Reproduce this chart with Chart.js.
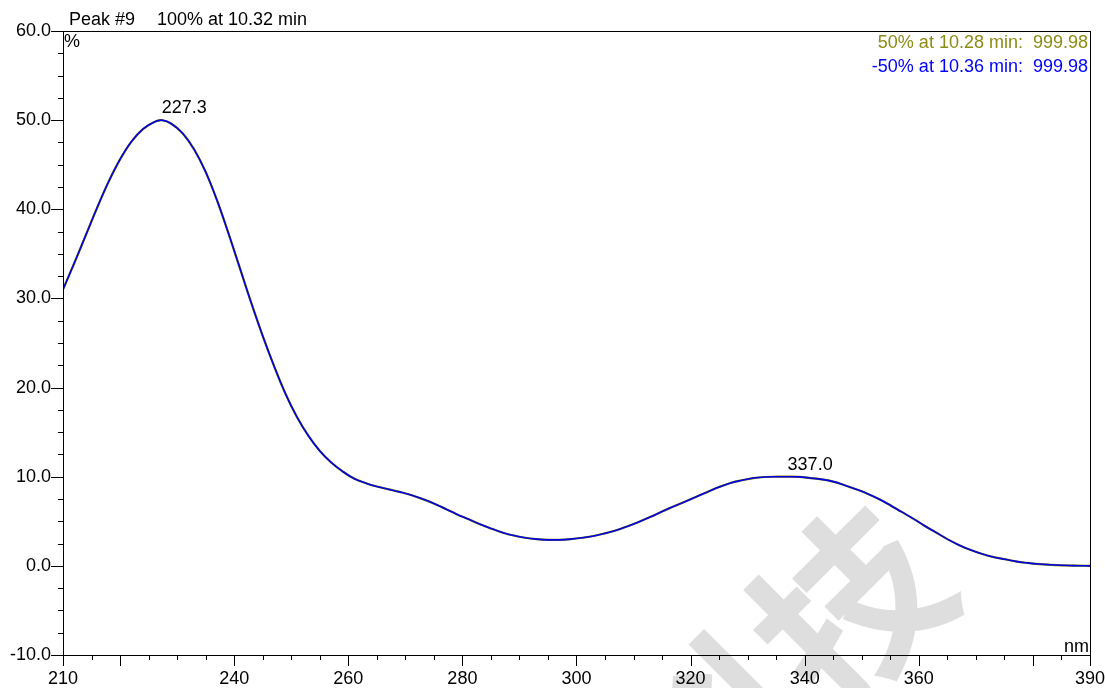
<!DOCTYPE html>
<html>
<head>
<meta charset="utf-8">
<title>Peak #9 UV spectrum</title>
<script src="https://cdn.jsdelivr.net/npm/chart.js@4/dist/chart.umd.min.js"></script>
<style>
  html, body { margin: 0; padding: 0; background: #ffffff; }
  #wrap { position: relative; width: 1105px; height: 688px; }
  canvas { display: block; }
</style>
</head>
<body>
<div id="wrap"><canvas id="spectrum" width="1105" height="688"></canvas></div>
<script>
// Wavelength (nm) and relative absorbance (%) of peak #9
const wavelengths = [
  210, 212, 214, 216, 218, 220, 222, 224, 226, 227.3, 229, 231, 233, 235, 237, 239,
  241, 243, 245, 247, 249, 251, 253, 255, 257, 259, 261, 263, 265, 267, 269, 271,
  273, 275, 277, 279, 281, 283, 285, 287, 289, 291, 293, 295, 297, 299, 301, 303,
  305, 307, 309, 311, 313, 315, 317, 319, 321, 323, 325, 327, 329, 331, 333, 335,
  337, 339, 341, 343, 345, 347, 349, 351, 353, 355, 357, 359, 361, 363, 365, 367,
  369, 371, 373, 375, 377, 379, 381, 383, 385, 387, 389, 390
];
const percent = [
  31.0, 34.0, 37.1, 40.2, 43.1, 45.6, 47.6, 49.0, 49.8, 50.0, 49.6, 48.5, 46.7, 44.2, 41.0, 37.3,
  33.4, 29.5, 25.8, 22.4, 19.3, 16.7, 14.6, 12.9, 11.6, 10.6, 9.8, 9.3, 8.9, 8.6, 8.3, 7.95,
  7.5, 7.0, 6.4, 5.8, 5.25, 4.7, 4.2, 3.75, 3.4, 3.15, 3.0, 2.92, 2.92, 3.0, 3.15, 3.35,
  3.65, 4.0, 4.45, 4.95, 5.5, 6.1, 6.65, 7.2, 7.75, 8.3, 8.85, 9.3, 9.6, 9.85, 9.97, 10.0,
  10.0, 9.98, 9.85, 9.7, 9.45, 9.05, 8.6, 8.1, 7.5, 6.8, 6.05, 5.3, 4.5, 3.75, 3.0, 2.35,
  1.8, 1.35, 1.0, 0.75, 0.5, 0.33, 0.2, 0.12, 0.06, 0.03, 0.01, 0.0
];

// Labelled maxima
const peakNm = [227.3, 337.0];
const peakPct = [50.0, 10.0];

// Axis labels
const xTickLabels = [210, 240, 260, 280, 300, 320, 340, 360, 390];
const xMajorTicks = [210, 220, 240, 260, 280, 300, 320, 340, 360, 380, 390];
const yTickLabels = [-10, 0, 10, 20, 30, 40, 50, 60];

const titleLeft = 'Peak #9';
const titleRight = '100% at 10.32 min';
const upperTrace = '50% at 10.28 min:  999.98';
const lowerTrace = '-50% at 10.36 min:  999.98';

const FONT = '"Liberation Sans", Arial, sans-serif';
const SIZE = 18;

const points = wavelengths.map((w, i) => ({ x: w, y: percent[i] }));

// Background watermark
const watermark = {
  id: 'watermark',
  beforeDraw(chart) {
    const ctx = chart.ctx;
    ctx.save();
    ctx.fillStyle = '#dedede';
    ctx.translate(850, 606);
    ctx.rotate(-Math.PI / 4);
    ctx.font = 'bold 185px "Noto Sans CJK SC"';
    ctx.textAlign = 'right';
    ctx.textBaseline = 'middle';
    ctx.fillText('科技', 92, 0);
    ctx.restore();
  }
};

// Frame, tick marks and annotation text
const frame = {
  id: 'frame',
  afterDraw(chart) {
    const ctx = chart.ctx;
    const a = chart.chartArea;
    const xs = chart.scales.x;
    const ys = chart.scales.y;
    ctx.save();
    ctx.strokeStyle = '#000000';
    ctx.lineWidth = 1;
    ctx.strokeRect(Math.round(a.left) + 0.5, Math.round(a.top) + 0.5,
                   Math.round(a.right - a.left), Math.round(a.bottom - a.top));

    ctx.beginPath();
    for (let v = 210; v <= 390; v += 5) {
      const px = Math.round(xs.getPixelForValue(v)) + 0.5;
      const len = xMajorTicks.includes(v) ? 11 : 5;
      ctx.moveTo(px, Math.round(a.bottom));
      ctx.lineTo(px, Math.round(a.bottom) + len);
    }
    for (let v = -10; v <= 60; v += 2.5) {
      const py = Math.round(ys.getPixelForValue(v)) + 0.5;
      const len = yTickLabels.includes(v) ? 12 : 5;
      ctx.moveTo(Math.round(a.left), py);
      ctx.lineTo(Math.round(a.left) - len, py);
    }
    ctx.stroke();

    ctx.font = SIZE + 'px ' + FONT;
    ctx.textBaseline = 'alphabetic';
    ctx.fillStyle = '#000000';
    ctx.textAlign = 'left';
    ctx.fillText(titleLeft, 69, 25);
    ctx.fillText(titleRight, 157, 25);
    ctx.fillText('%', a.left + 1, 47);
    ctx.textAlign = 'right';
    ctx.fillText('nm', a.right - 1, 652);

    ctx.fillStyle = '#8c8c14';
    ctx.fillText(upperTrace, a.right - 2, 48);
    ctx.fillStyle = '#0000ff';
    ctx.fillText(lowerTrace, a.right - 2, 72);

    ctx.fillStyle = '#000000';
    ctx.textAlign = 'left';
    peakNm.forEach((nm, i) => {
      const px = xs.getPixelForValue(nm);
      const py = ys.getPixelForValue(peakPct[i]);
      ctx.fillText(nm.toFixed(1), px, py - 7);
    });
    ctx.restore();
  }
};

new Chart(document.getElementById('spectrum'), {
  type: 'line',
  data: {
    datasets: [
      {
        label: '-50%',
        data: points,
        borderColor: '#0000e6',
        borderWidth: 1.6,
        pointRadius: 0,
        fill: false,
        tension: 0.4
      },
      {
        label: '50%',
        data: points,
        borderColor: '#808000',
        borderWidth: 2.2,
        pointRadius: 0,
        fill: false,
        tension: 0.4
      }
    ]
  },
  options: {
    responsive: false,
    animation: false,
    devicePixelRatio: 1,
    layout: { padding: { top: 31, right: 0, left: 0, bottom: 0 } },
    plugins: { legend: { display: false }, tooltip: { enabled: false } },
    scales: {
      x: {
        type: 'linear',
        min: 210,
        max: 390,
        grid: { display: false, drawTicks: true, tickLength: 13 },
        border: { display: false },
        ticks: {
          stepSize: 5,
          autoSkip: false,
          maxRotation: 0,
          padding: 0,
          color: '#000000',
          font: { family: FONT, size: SIZE },
          callback: (v) => xTickLabels.includes(v) ? String(v) : ''
        },
        afterFit: (s) => { s.height = 33; }
      },
      y: {
        type: 'linear',
        min: -10,
        max: 60,
        grid: { display: false, drawTicks: false },
        border: { display: false },
        ticks: {
          stepSize: 2.5,
          autoSkip: false,
          padding: 12,
          color: '#000000',
          font: { family: FONT, size: SIZE },
          callback: (v) => yTickLabels.includes(v) ? v.toFixed(1) : ''
        },
        afterFit: (s) => { s.width = 63; }
      }
    }
  },
  plugins: [watermark, frame]
});
</script>
</body>
</html>
